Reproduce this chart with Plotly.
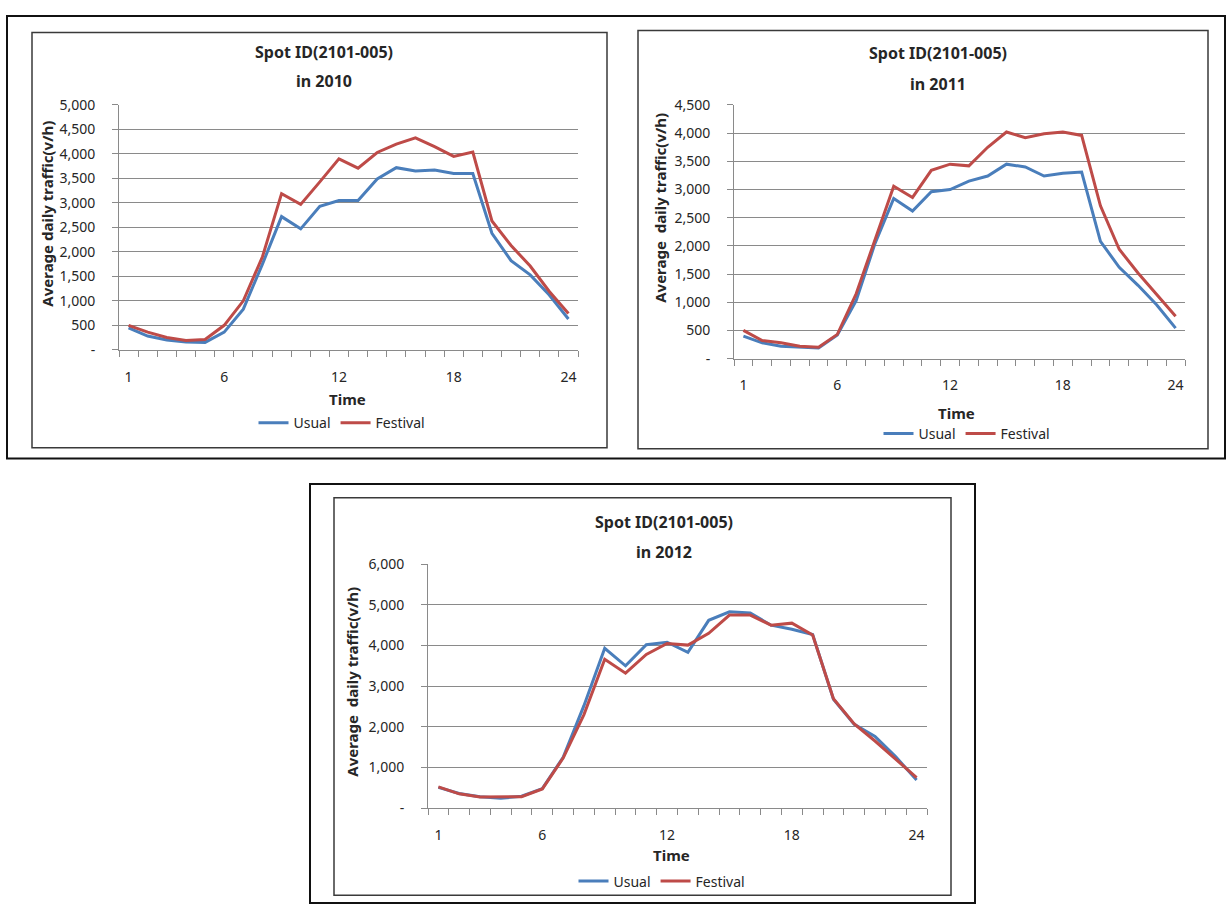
import plotly.graph_objects as go

W, H = 1227, 914

# Hourly categories and tick labels
hours = list(range(1, 25))
hour_ticks = [1, 6, 12, 18, 24]

# 2010
usual_2010 = [450, 280, 200, 160, 150, 360, 830, 1750, 2720, 2470, 2930, 3050, 3050, 3490,
              3720, 3650, 3670, 3600, 3600, 2380, 1820, 1530, 1120, 630]
festival_2010 = [500, 360, 250, 190, 210, 500, 1000, 1900, 3190, 2970, 3430, 3900, 3710, 4030,
                 4200, 4330, 4150, 3950, 4040, 2630, 2130, 1710, 1190, 740]

# 2011
usual_2011 = [400, 280, 220, 200, 190, 420, 1030, 2040, 2840, 2620, 2960, 3000, 3150, 3240,
              3450, 3400, 3240, 3290, 3310, 2080, 1620, 1300, 950, 540]
festival_2011 = [500, 320, 280, 220, 200, 430, 1150, 2100, 3060, 2860, 3340, 3450, 3420, 3750,
                 4020, 3920, 3990, 4020, 3960, 2710, 1940, 1520, 1140, 750]

# 2012
usual_2012 = [510, 360, 280, 240, 290, 480, 1250, 2520, 3930, 3500, 4020, 4080, 3830, 4620,
              4830, 4800, 4500, 4400, 4270, 2680, 2060, 1760, 1260, 690]
festival_2012 = [520, 350, 270, 270, 280, 470, 1230, 2300, 3660, 3320, 3780, 4050, 4010, 4300,
                 4750, 4750, 4500, 4550, 4260, 2690, 2070, 1650, 1200, 750]

years = ["2010", "2011", "2012"]
y_max = [5000, 4500, 6000]
y_step = [500, 500, 1000]
series = [(usual_2010, festival_2010), (usual_2011, festival_2011), (usual_2012, festival_2012)]

BLUE = "#4a7ebb"
RED = "#be4b48"
GRID = "#8a8a8a"
TXT = "#262626"
FONT = "Noto Sans"

# Panel geometry in pixels: plot area (left, top, right, bottom)
plot_px = [(119, 97, 578, 347), (734, 97, 1185, 356), (428, 566, 927, 815)]
inner_box = [(32, 23, 607, 447), (638, 21, 1208, 448), (334, 498, 951, 904)]
title_pos = [(324, 43, 72), (938, 44, 76), (664, 523, 553)]
ytitle_pos = [(47, 208), (660, 202), (352, 686)]
xtitle_pos = [(347, 397), (956, 412), (671, 863)]
legend_pos = [(342, 422), (967, 433), (662, 890)]
ytitle_text = ["Average daily traffic(v/h)", "Average  daily traffic(v/h)",
               "Average  daily traffic(v/h)"]


def fx(x):
    return x / W


def fy(y):
    return 1 - y / H


def label(text, x, y, size, angle=0):
    return dict(text=text, x=fx(x), y=fy(y), xref="paper", yref="paper",
                xanchor="center", yanchor="middle", showarrow=False, textangle=angle,
                font=dict(size=size, color=TXT))


fig = go.Figure()
layout = dict(
    width=W, height=H, margin=dict(l=0, r=0, t=0, b=0),
    paper_bgcolor="white", plot_bgcolor="white",
    font=dict(family=FONT, size=14, color=TXT),
)
annotations = []
shapes = []

for i, (usual, festival) in enumerate(series):
    n = "" if i == 0 else str(i + 1)
    leg = "legend" if i == 0 else f"legend{i + 1}"
    fig.add_trace(go.Scatter(x=hours, y=usual, name="Usual", mode="lines",
                             line=dict(color=BLUE, width=3), xaxis=f"x{n}", yaxis=f"y{n}",
                             legend=leg))
    fig.add_trace(go.Scatter(x=hours, y=festival, name="Festival", mode="lines",
                             line=dict(color=RED, width=3), xaxis=f"x{n}", yaxis=f"y{n}",
                             legend=leg))

    l, t, r, b = plot_px[i]
    yvals = list(range(0, y_max[i] + 1, y_step[i]))
    ytext = ["-" if v == 0 else f"{v:,}" for v in yvals]

    layout[f"xaxis{n}"] = dict(
        domain=[fx(l), fx(r)], anchor=f"y{n}", range=[0.5, 24.5],
        tickvals=hour_ticks, ticks="", showgrid=False, zeroline=False,
        showline=True, linecolor=GRID, linewidth=1,
        ticklabelstandoff=14, tickfont=dict(size=14, color=TXT),
        minor=dict(tick0=0.5, dtick=1, ticks="outside", ticklen=6,
                   tickcolor=GRID, tickwidth=1, showgrid=False),
    )
    layout[f"yaxis{n}"] = dict(
        domain=[fy(b), fy(t)], anchor=f"x{n}", range=[0, y_max[i]],
        tickvals=yvals, ticktext=ytext, ticks="outside", ticklen=6,
        tickcolor=GRID, showgrid=True, gridcolor=GRID, gridwidth=1,
        zeroline=False, showline=True, linecolor=GRID, linewidth=1,
        ticklabelstandoff=14, tickfont=dict(size=14, color=TXT),
    )

    lx, ly = legend_pos[i]
    layout[leg] = dict(
        orientation="h", x=fx(lx), y=fy(ly), xanchor="center", yanchor="middle",
        xref="paper", yref="paper", bgcolor="rgba(0,0,0,0)",
        font=dict(size=14, color=TXT), itemwidth=30, tracegroupgap=0,
    )

    tx, ty1, ty2 = title_pos[i]
    annotations.append(label("<b>Spot ID(2101-005)</b>", tx, ty1, 16))
    annotations.append(label(f"<b>in {years[i]}</b>", tx, ty2, 16))
    yx, yy = ytitle_pos[i]
    annotations.append(label(f"<b>{ytitle_text[i]}</b>", yx, yy, 15, angle=-90))
    xx, xy = xtitle_pos[i]
    annotations.append(label("<b>Time</b>", xx, xy, 15))

    bl, bt, br, bb = inner_box[i]
    shapes.append(dict(type="rect", xref="paper", yref="paper",
                       x0=fx(bl), y0=fy(bb), x1=fx(br), y1=fy(bt),
                       line=dict(color="#3a3a3a", width=1.5)))

# Outer frames around the top row and the bottom chart
shapes.append(dict(type="rect", xref="paper", yref="paper",
                   x0=fx(7), y0=fy(458), x1=fx(1225), y1=fy(6),
                   line=dict(color="#111111", width=2)))
shapes.append(dict(type="rect", xref="paper", yref="paper",
                   x0=fx(310), y0=fy(912), x1=fx(975), y1=fy(484),
                   line=dict(color="#111111", width=2)))

layout["annotations"] = annotations
layout["shapes"] = shapes
fig.update_layout(**layout)
fig.write_html("out.html")
